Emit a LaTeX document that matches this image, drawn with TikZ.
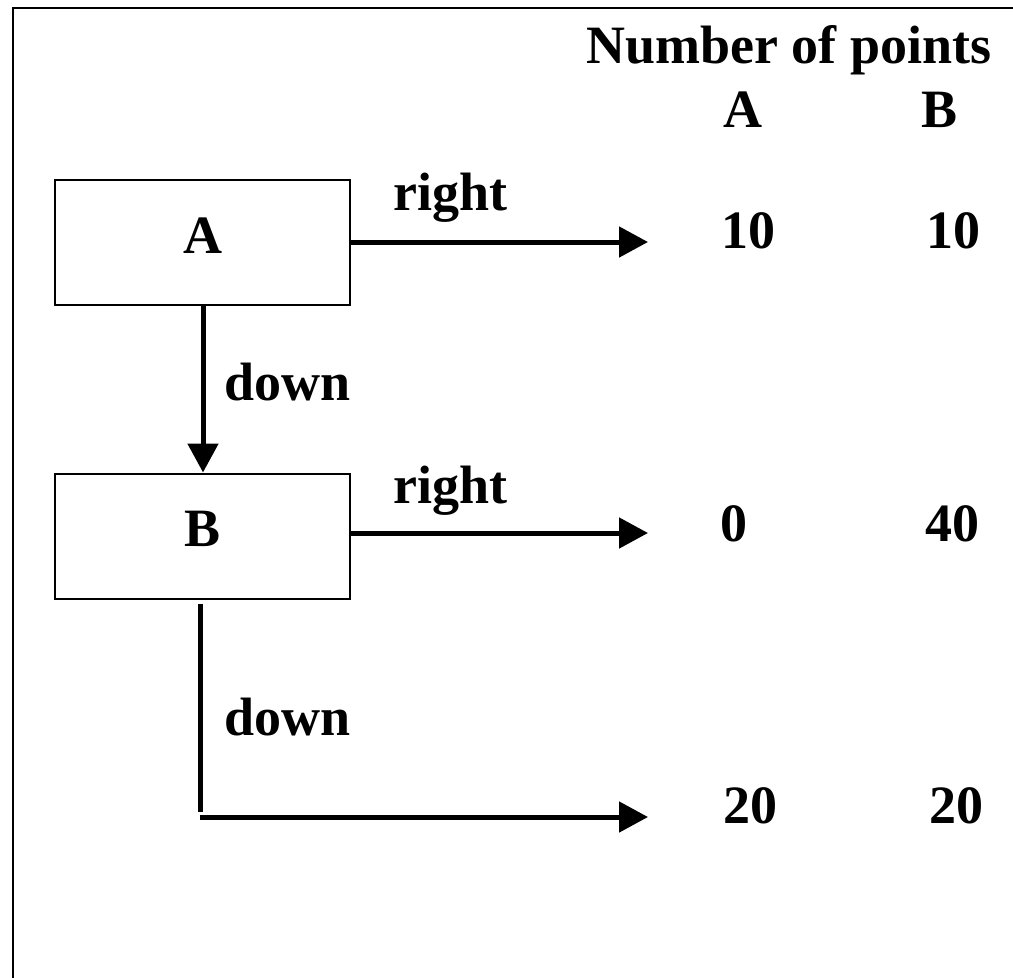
\documentclass[tikz,border=0pt]{standalone}
\usepackage{fontspec}
\setmainfont{Liberation Serif}
\usetikzlibrary{arrows.meta}
\begin{document}
\begin{tikzpicture}[x=1pt,y=-1pt,
  lbl/.style={font=\bfseries\fontsize{54}{60}\selectfont, inner sep=0pt, anchor=base},
  stbox/.style={draw, line width=2pt, minimum width=295pt, minimum height=125pt, inner sep=0pt,
     font=\bfseries\fontsize{54}{60}\selectfont, text depth=14pt},
  conn/.style={line width=5pt, -{Triangle[length=29pt,width=30pt]}},
  plain/.style={line width=5pt}]
\useasboundingbox[fill=white] (0,0) rectangle (1013,978);
\draw[line width=2pt] (13,978) -- (13,8) -- (1013,8);
% boxes
\node[stbox] (boxA) at (202.5,242.5) {A};
\node[stbox] (boxB) at (202.5,536) {B};
% header
\node[lbl] (hdr) at (789,63) {Number of points};
\node[lbl] (hA) at (743,127) {A};
\node[lbl] (hB) at (940,127) {B};
% values
\node[lbl] (a1) at (748,248) {10};
\node[lbl] (b1) at (953,248) {10};
\node[lbl] (a2) at (734,541) {0};
\node[lbl] (b2) at (952,541) {40};
\node[lbl] (a3) at (750,823) {20};
\node[lbl] (b3) at (956,823) {20};
% edge labels
\node[lbl, anchor=base west] (r1) at (393,210) {right};
\node[lbl, anchor=base west] (r2) at (393,503) {right};
\node[lbl, anchor=base west] (d1) at (224,400) {down};
\node[lbl, anchor=base west] (d2) at (224,735) {down};
% connector ends
\coordinate (e1) at (648,242);
\coordinate (e2) at (648,533);
\coordinate (c3) at (200,817);
\coordinate (e3) at (648,817);
% connectors
\draw[conn] (boxA.east |- e1) -- (e1);
\draw[conn] (boxB.east |- e2) -- (e2);
\draw[conn] ([xshift=0.5pt]boxA.south) -- ([xshift=0.5pt]boxB.north);
\draw[plain] ([xshift=-2.5pt,yshift=-4pt]boxB.south) -- ([yshift=5pt]c3);
\draw[conn] (c3) -- (e3);
\end{tikzpicture}
\end{document}
